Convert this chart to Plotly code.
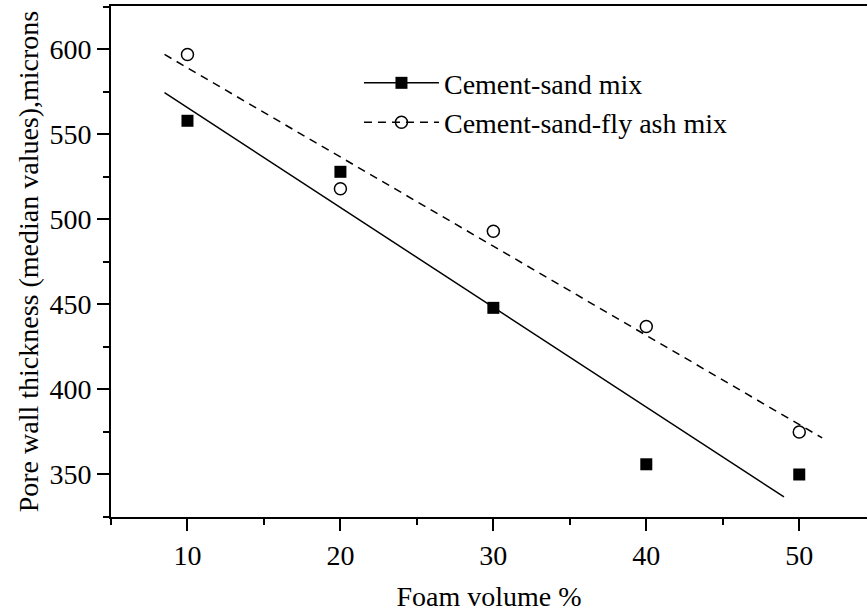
import plotly.graph_objects as go

# Data
foam_volume = [10, 20, 30, 40, 50]
cement_sand = [558, 528, 448, 356, 350]
cement_sand_flyash = [597, 518, 493, 437, 375]

# Fitted trend lines (endpoints)
fit_cs_x = [8.5, 49.0]
fit_cs_y = [574.5, 336.8]
fit_csf_x = [8.5, 51.5]
fit_csf_y = [597.0, 371.5]

x_ticks = [10, 20, 30, 40, 50]
y_ticks = [350, 400, 450, 500, 550, 600]

FONT = "Liberation Serif, Times New Roman, serif"
BLACK = "#000000"
FS = 28

fig = go.Figure()

# trend lines
fig.add_trace(go.Scatter(x=fit_cs_x, y=fit_cs_y, mode="lines",
                         line=dict(color=BLACK, width=1.5), showlegend=False, hoverinfo="skip"))
fig.add_trace(go.Scatter(x=fit_csf_x, y=fit_csf_y, mode="lines",
                         line=dict(color=BLACK, width=1.5, dash="8px,6px"), showlegend=False, hoverinfo="skip"))

# markers
fig.add_trace(go.Scatter(x=foam_volume, y=cement_sand, mode="markers",
                         marker=dict(symbol="square", size=12, color=BLACK, line=dict(width=0)),
                         showlegend=False))
fig.add_trace(go.Scatter(x=foam_volume, y=cement_sand_flyash, mode="markers",
                         marker=dict(symbol="circle-open", size=12, color=BLACK, line=dict(width=1.5, color=BLACK)),
                         showlegend=False))

# legend entries
fig.add_trace(go.Scatter(x=[None], y=[None], mode="lines+markers", name="Cement-sand mix",
                         line=dict(color=BLACK, width=1.5),
                         marker=dict(symbol="square", size=12, color=BLACK)))
fig.add_trace(go.Scatter(x=[None], y=[None], mode="lines+markers", name="Cement-sand-fly ash mix",
                         line=dict(color=BLACK, width=1.5, dash="8px,6px"),
                         marker=dict(symbol="circle-open", size=12, color=BLACK, line=dict(width=1.5, color=BLACK))))

fig.update_layout(
    width=867, height=616,
    margin=dict(l=111, r=0, t=6, b=99, autoexpand=False),
    paper_bgcolor="white", plot_bgcolor="white",
    font=dict(family=FONT, size=FS, color=BLACK),
    legend=dict(x=0.328, y=0.898, xanchor="left", yanchor="top",
                bgcolor="rgba(0,0,0,0)", itemwidth=75, tracegroupgap=0,
                font=dict(family=FONT, size=FS, color=BLACK)),
    xaxis=dict(range=[5, 54.43], showgrid=False, zeroline=False, automargin=False,
               showline=True, linecolor=BLACK, linewidth=2, mirror=True,
               tickmode="array", tickvals=x_ticks, ticks="outside", ticklen=12, tickwidth=2, tickcolor=BLACK,
               minor=dict(dtick=5, tick0=0, ticks="outside", ticklen=6, tickwidth=2, tickcolor=BLACK, showgrid=False),
               tickfont=dict(family=FONT, size=FS, color=BLACK),
               title=dict(text="Foam volume %", font=dict(family=FONT, size=FS, color=BLACK), standoff=17)),
    yaxis=dict(range=[325, 625.5], showgrid=False, zeroline=False, automargin=False,
               showline=True, linecolor=BLACK, linewidth=2, mirror=False,
               tickmode="array", tickvals=y_ticks, ticks="outside", ticklen=12, tickwidth=2, tickcolor=BLACK,
               minor=dict(dtick=25, tick0=0, ticks="outside", ticklen=6, tickwidth=2, tickcolor=BLACK, showgrid=False),
               tickfont=dict(family=FONT, size=FS, color=BLACK),
               title=dict(text="Pore wall thickness (median values),microns",
                          font=dict(family=FONT, size=FS, color=BLACK), standoff=3)),
)

fig.write_html("out.html", config={"displayModeBar": False},
               post_script="document.body.style.margin='0px';")
